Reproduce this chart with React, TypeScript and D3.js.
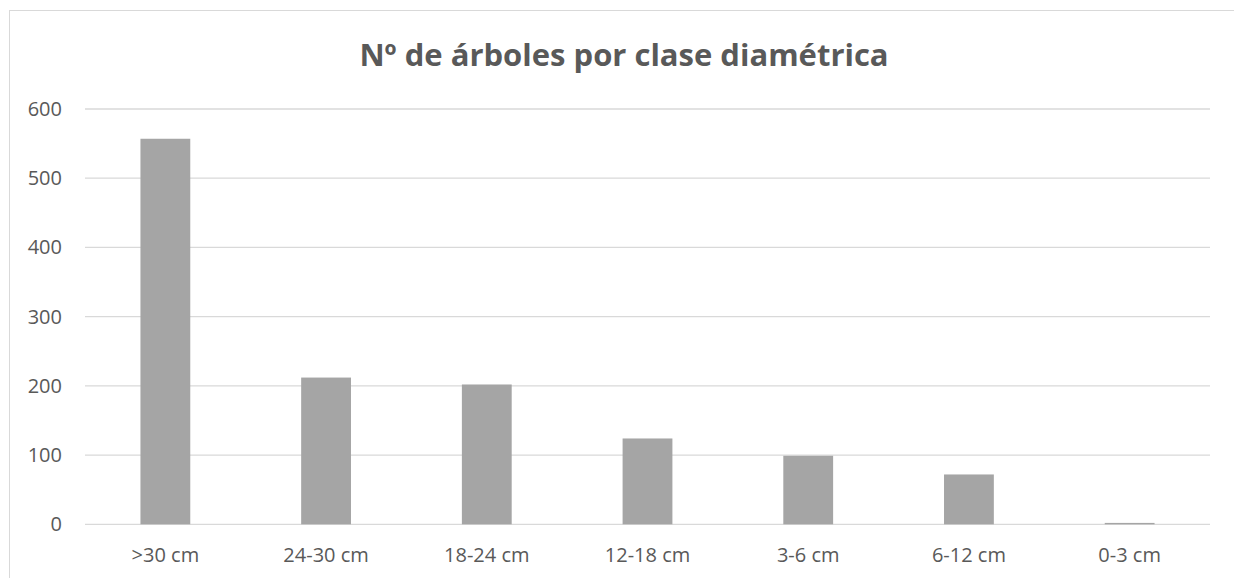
import React from "react";
import * as d3 from "d3";

const categories = [">30 cm", "24-30 cm", "18-24 cm", "12-18 cm", "3-6 cm", "6-12 cm", "0-3 cm"];
const values = [557, 212, 202, 124, 99, 72, 2];
const yTicks = [0, 100, 200, 300, 400, 500, 600];
const title = "Nº de árboles por clase diamétrica";

export default function App() {
  const W = 1234, H = 578;
  const left = 85, right = 1210, top = 109, bottom = 524.3;
  const x = d3.scaleBand<string>().domain(categories).range([left, right]).paddingInner(0.69).paddingOuter(0.345);
  const y = d3.scaleLinear().domain([0, 600]).range([bottom, top]);
  const font = "'Open Sans', sans-serif";
  return (
    <svg width={W} height={H} style={{ position: "absolute", left: 0, top: 0, background: "#fff" }}>
      <rect x={9.5} y={10.5} width={1300} height={700} fill="#fff" stroke="#d9d9d9" strokeWidth={1} />
      <text x={624} y={66} textAnchor="middle" fontFamily={font} fontWeight="bold" fontSize={31} fill="#595959">{title}</text>
      {yTicks.map((t) => (
        <g key={t}>
          <line x1={left} x2={right} y1={y(t)} y2={y(t)} stroke="#d9d9d9" strokeWidth={1.3} />
          <text x={62} y={y(t)} dy="0.35em" textAnchor="end" fontFamily={font} fontSize={20} fill="#595959">{t}</text>
        </g>
      ))}
      {categories.map((c, i) => (
        <g key={c}>
          <rect x={x(c)} y={y(values[i])} width={x.bandwidth()} height={y(0) - y(values[i])} fill="#a5a5a5" />
          <text x={(x(c) as number) + x.bandwidth() / 2} y={555} dy="0.35em" textAnchor="middle" fontFamily={font} fontSize={20} fill="#595959">{c}</text>
        </g>
      ))}
    </svg>
  );
}
